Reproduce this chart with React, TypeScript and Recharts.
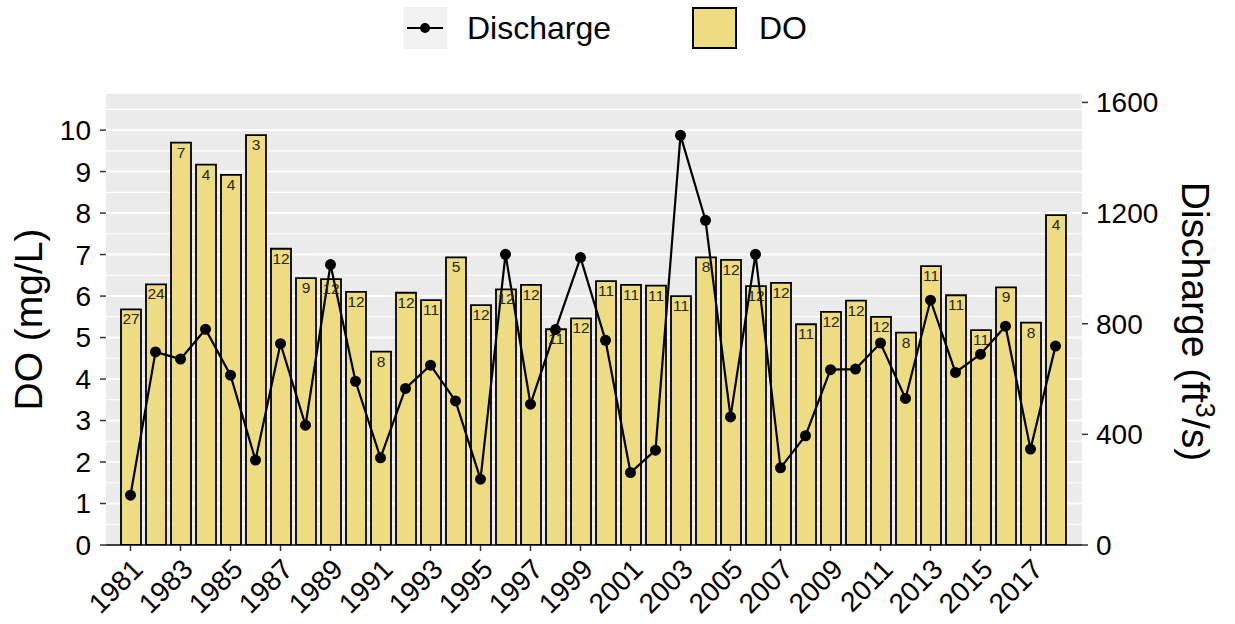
import React from "react";
import { Bar, CartesianGrid, ComposedChart, LabelList, Line, XAxis, YAxis } from "recharts";

const years = [
  "1981", "1982", "1983", "1984", "1985", "1986", "1987", "1988", "1989", "1990",
  "1991", "1992", "1993", "1994", "1995", "1996", "1997", "1998", "1999", "2000",
  "2001", "2002", "2003", "2004", "2005", "2006", "2007", "2008", "2009", "2010",
  "2011", "2012", "2013", "2014", "2015", "2016", "2017", "2018",
];

// mean DO per year (mg/L)
const doMean = [
  5.68, 6.28, 9.7, 9.17, 8.92, 9.88, 7.14, 6.43, 6.41, 6.1,
  4.66, 6.08, 5.9, 6.93, 5.78, 6.16, 6.27, 5.2, 5.46, 6.36,
  6.27, 6.25, 6.0, 6.93, 6.87, 6.24, 6.32, 5.32, 5.62, 5.89,
  5.5, 5.12, 6.72, 6.02, 5.18, 6.21, 5.36, 7.95,
];

// number of samples, printed on each bar
const sampleCount = [
  27, 24, 7, 4, 4, 3, 12, 9, 12, 12,
  8, 12, 11, 5, 12, 12, 12, 11, 12, 11,
  11, 11, 11, 8, 12, 12, 12, 11, 12, 12,
  12, 8, 11, 11, 11, 9, 8, 4,
];

// mean discharge (ft3/s)
const discharge = [
  180, 698, 672, 780, 614, 307, 728, 433, 1014, 592,
  315, 566, 650, 521, 238, 1051, 509, 779, 1039, 740,
  262, 343, 1481, 1174, 463, 1051, 279, 395, 634, 636,
  730, 530, 885, 624, 690, 791, 347, 719,
];

const doTicks = [0, 1, 2, 3, 4, 5, 6, 7, 8, 9, 10];
const doMinor = [0.5, 1.5, 2.5, 3.5, 4.5, 5.5, 6.5, 7.5, 8.5, 9.5, 10.5];
const qTicks = [0, 400, 800, 1200, 1600];

const DO_MAX = 10.87;
const Q_MAX = DO_MAX * 150;

const data = years.map((y, i) => ({ year: y, DO: doMean[i], n: sampleCount[i], Discharge: discharge[i] }));

const FONT = "'Liberation Sans', Arial, Helvetica, sans-serif";
const FILL = "#EEDC82";
const PANEL = "#EBEBEB";

const YearTick = (props: any) => {
  const { x, y, payload } = props;
  const ax = x + 14;
  const ay = y + 18;
  return (
    <text x={ax} y={ay} transform={`rotate(-45, ${ax}, ${ay})`} textAnchor="end" fontSize={28} fill="#000" fontFamily={FONT}>
      {payload.value}
    </text>
  );
};

const LeftTitle = (props: any) => {
  const vb = props.viewBox || { x: 0, y: 94, width: 106, height: 451 };
  const x = vb.x + 42;
  const y = vb.y + vb.height / 2;
  return (
    <text x={x} y={y} transform={`rotate(-90, ${x}, ${y})`} textAnchor="middle" fontSize={39} fill="#000" fontFamily={FONT}>
      DO (mg/L)
    </text>
  );
};

const RightTitle = (props: any) => {
  const vb = props.viewBox || { x: 1082, y: 94, width: 153, height: 451 };
  const x = vb.x + 100;
  const y = vb.y + vb.height / 2 + 2;
  return (
    <text x={x} y={y} transform={`rotate(90, ${x}, ${y})`} textAnchor="middle" fontSize={39} fill="#000" fontFamily={FONT}>
      Discharge (ft
      <tspan fontSize={27} dy={-14}>3</tspan>
      <tspan dy={14}>/s)</tspan>
    </text>
  );
};

function LegendBox() {
  const txt: React.CSSProperties = {
    position: "absolute",
    top: 7,
    height: 42,
    lineHeight: "42px",
    fontSize: 32,
    fontFamily: FONT,
    color: "#000",
  };
  return (
    <>
      <svg width={44} height={42} style={{ position: "absolute", left: 403, top: 7 }}>
        <rect x={0} y={0} width={44} height={42} fill="#F2F2F2" />
        <line x1={4} x2={40} y1={21} y2={21} stroke="#000" strokeWidth={2} />
        <circle cx={22} cy={21} r={5} fill="#000" />
      </svg>
      <div style={{ ...txt, left: 467 }}>Discharge</div>
      <svg width={45} height={42} style={{ position: "absolute", left: 692, top: 7 }}>
        <rect x={1} y={1} width={43} height={40} fill={FILL} stroke="#000" strokeWidth={2} />
      </svg>
      <div style={{ ...txt, left: 759 }}>DO</div>
    </>
  );
}

export default function App() {
  return (
    <div style={{ position: "absolute", left: 0, top: 0, width: 1235, height: 624, background: "#fff" }}>
      <ComposedChart width={1235} height={624} data={data} margin={{ top: 94, right: 0, bottom: 0, left: 0 }}>
        <CartesianGrid
          yAxisId="do"
          vertical={false}
          fill={PANEL}
          fillOpacity={1}
          stroke="#fff"
          strokeWidth={1.1}
          horizontalValues={doMinor}
        />
        <CartesianGrid yAxisId="do" vertical={false} stroke="#fff" strokeWidth={2} horizontalValues={doTicks} />
        <XAxis
          dataKey="year"
          interval={1}
          height={79}
          padding={{ left: 12, right: 14 }}
          tickSize={6}
          tickMargin={2}
          axisLine={{ stroke: "#000", strokeWidth: 1.5 }}
          tickLine={{ stroke: "#333", strokeWidth: 1.5 }}
          tick={<YearTick />}
        />
        <YAxis
          yAxisId="do"
          orientation="left"
          width={106}
          domain={[0, DO_MAX]}
          ticks={doTicks}
          allowDataOverflow
          axisLine={false}
          tickSize={6}
          tickMargin={9}
          tickLine={{ stroke: "#333", strokeWidth: 1.5 }}
          tick={{ fill: "#000", fontSize: 28, fontFamily: FONT }}
          label={<LeftTitle />}
        />
        <YAxis
          yAxisId="q"
          orientation="right"
          width={153}
          domain={[0, Q_MAX]}
          ticks={qTicks}
          allowDataOverflow
          axisLine={false}
          tickSize={6}
          tickMargin={8}
          tickLine={{ stroke: "#333", strokeWidth: 1.5 }}
          tick={{ fill: "#000", fontSize: 28, fontFamily: FONT }}
          label={<RightTitle />}
        />
        <Bar yAxisId="do" dataKey="DO" fill={FILL} stroke="#000" strokeWidth={1.8} barSize={20} isAnimationActive={false}>
          <LabelList dataKey="n" position="insideTop" offset={4} fontSize={15.5} fill="#262626" fontFamily={FONT} />
        </Bar>
        <Line
          yAxisId="q"
          dataKey="Discharge"
          type="linear"
          stroke="#000"
          strokeWidth={2.2}
          dot={{ r: 5.5, fill: "#000", stroke: "#000", strokeWidth: 0 }}
          activeDot={false}
          isAnimationActive={false}
        />
      </ComposedChart>
      <LegendBox />
    </div>
  );
}
